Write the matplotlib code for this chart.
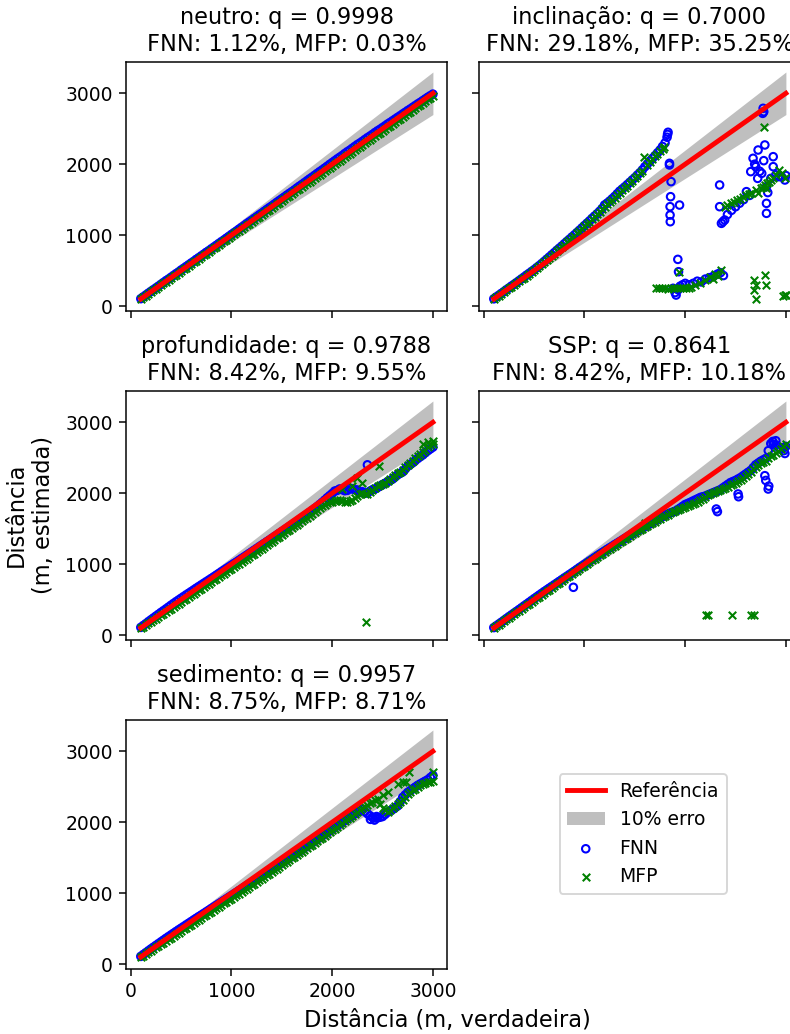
import matplotlib
matplotlib.use("Agg")
import matplotlib.pyplot as plt

# ---------------- data ----------------
X_GRID = [100, 150, 200, 250, 300, 350, 400, 450, 500, 550, 600, 650, 700, 750, 800,
          850, 900, 950, 1000, 1050, 1100, 1150, 1200, 1250, 1300, 1350, 1400, 1450,
          1500, 1550, 1600, 1650, 1700, 1750, 1800, 1850, 1900, 1950, 2000, 2050, 2100,
          2150, 2200, 2250, 2300, 2350, 2400, 2450, 2500, 2550, 2600, 2650, 2700, 2750,
          2800, 2850, 2900, 2950, 3000]
X_HALF = [125, 175, 225, 275, 325, 375, 425, 475, 525, 575, 625, 675, 725, 775, 825,
          875, 925, 975, 1025, 1075, 1125, 1175, 1225, 1275, 1325, 1375, 1425, 1475,
          1525, 1575, 1625, 1675, 1725, 1775, 1825, 1875, 1925, 1975, 2025, 2075, 2125,
          2175, 2225, 2275, 2325, 2375, 2425, 2475, 2525, 2575, 2625, 2675, 2725, 2775,
          2825, 2875, 2925, 2975]

REF_X = [100, 3000]

TITLES = ["neutro", "inclinação", "profundidade", "SSP", "sedimento"]
Q_VALUES = [0.9998, 0.7000, 0.9788, 0.8641, 0.9957]
FNN_ERR = [1.12, 29.18, 8.42, 8.42, 8.75]
MFP_ERR = [0.03, 35.25, 9.55, 10.18, 8.71]

# neutro
NEUTRO_FNN_Y = [104, 155, 206, 255, 306, 357, 405, 456, 507, 556, 606, 657, 706, 757, 806,
                856, 907, 957, 1008, 1057, 1108, 1160, 1208, 1259, 1309, 1361, 1410, 1462,
                1512, 1563, 1612, 1664, 1714, 1766, 1816, 1868, 1918, 1970, 2022, 2074, 2122,
                2175, 2224, 2276, 2322, 2373, 2420, 2470, 2516, 2566, 2612, 2660, 2708, 2756,
                2802, 2850, 2896, 2944, 2988]
NEUTRO_FNN_H = [129, 181, 230, 280, 331, 380, 431, 480, 531, 581, 630, 681, 731, 780, 831,
                882, 931, 982, 1033, 1083, 1133, 1184, 1234, 1285, 1335, 1386, 1436, 1487,
                1537, 1588, 1637, 1690, 1740, 1792, 1842, 1894, 1944, 1997, 2048, 2098, 2150,
                2198, 2250, 2298, 2348, 2396, 2446, 2492, 2540, 2588, 2636, 2683, 2731, 2778,
                2826, 2872, 2920, 2966]
NEUTRO_MFP_Y = [97, 146, 196, 245, 295, 344, 394, 443, 493, 542, 592, 641, 691, 740, 790,
                839, 889, 938, 988, 1037, 1087, 1136, 1186, 1235, 1285, 1334, 1384, 1433,
                1483, 1532, 1582, 1631, 1680, 1730, 1779, 1828, 1878, 1927, 1976, 2026, 2075,
                2124, 2174, 2223, 2272, 2322, 2371, 2420, 2469, 2519, 2568, 2617, 2667, 2716,
                2765, 2815, 2864, 2913, 2962]
NEUTRO_MFP_H = [121, 171, 220, 270, 319, 369, 418, 468, 517, 567, 616, 666, 715, 765, 814,
                864, 913, 963, 1012, 1062, 1111, 1161, 1210, 1260, 1309, 1359, 1408, 1458,
                1507, 1557, 1606, 1655, 1705, 1754, 1803, 1853, 1902, 1951, 2001, 2050, 2099,
                2149, 2198, 2247, 2297, 2346, 2395, 2444, 2494, 2543, 2592, 2642, 2691, 2740,
                2790, 2839, 2888, 2937]

# inclinação (main rising branch, then scattered branches)
INCL_FNN_X = [100, 150, 200, 250, 300, 350, 400, 450, 500, 550, 600, 650, 700, 750, 800,
              850, 900, 950, 1000, 1050, 1100, 1150, 1200, 1250, 1300, 1350, 1400, 1450,
              1500, 1550, 1600, 1650, 1700, 1750, 1800,
              125, 175, 225, 275, 325, 375, 425, 475, 525, 575, 625, 675, 725, 775, 825,
              875, 925, 975, 1025, 1075, 1125, 1175, 1225, 1275, 1325, 1375, 1425, 1475,
              1525, 1575, 1625, 1675, 1725, 1775,
              1820, 1830, 1825,
              1844, 1844, 1860, 1855, 1850, 1850, 1852, 1944,
              1880, 1900, 1910, 1930, 1950, 1975, 2000, 2040, 2080, 2120, 2160, 2200,
              2240, 2280, 2320, 2350, 2380, 1927, 1934,
              2342, 2342, 2360, 2375, 2392, 2420, 2460, 2500, 2540, 2580, 2608, 2640,
              2651, 2674, 2690, 2700, 2724, 2740, 2760, 2791, 2807, 2807, 2807, 2820,
              2850, 2874, 2874, 2900, 2930, 2957, 2990, 3000, 2780, 2720,
              2774, 2780, 2770]
INCL_FNN_Y = [102, 152, 203, 254, 305, 356, 408, 460, 512, 568, 628, 690, 752, 815, 878,
              940, 1003, 1068, 1135, 1200, 1268, 1335, 1425, 1480, 1545, 1620, 1680, 1745,
              1810, 1880, 1965, 2045, 2120, 2200, 2300,
              128, 178, 230, 281, 330, 383, 436, 487, 541, 598, 660, 722, 785, 846, 910,
              973, 1036, 1102, 1168, 1236, 1300, 1375, 1450, 1512, 1583, 1650, 1712, 1778,
              1846, 1920, 2005, 2082, 2160, 2250,
              2380, 2450, 2420,
              2012, 1989, 1754, 1542, 1401, 1283, 1189, 1424,
              250, 190, 155, 230, 280, 300, 320, 300, 320, 350, 340, 380,
              400, 420, 450, 470, 430, 658, 484,
              1707, 1401, 1166, 1190, 1213, 1290, 1350, 1400, 1450, 1500, 1613, 1560,
              1895, 2083, 2000, 1965, 2200, 1900, 1871, 2271, 1683, 1448, 1307, 1600,
              1800, 2106, 1965, 1850, 1824, 1824, 1777, 1840, 2050, 1800,
              2788, 2740, 2717]
INCL_MFP_X = [100, 150, 200, 250, 300, 350, 400, 450, 500, 550, 600, 650, 700, 750, 800,
              850, 900, 950, 1000, 1050, 1100, 1150, 1200, 1250, 1300, 1350, 1400, 1450,
              1500, 1550, 1595, 1650, 1700, 1750, 1790,
              125, 175, 225, 275, 325, 375, 425, 475, 525, 575, 625, 675, 725, 775, 825,
              875, 925, 975, 1025, 1075, 1125, 1175, 1225, 1275, 1325, 1375, 1425, 1475,
              1525, 1575, 1625, 1675, 1725, 1775,
              1711, 1740, 1770, 1800, 1830, 1860, 1890, 1920, 1950, 1980, 2010, 2040,
              2060, 2100, 2150, 2200, 2250, 2300, 2359, 2330, 2280, 1934,
              2392, 2420, 2450, 2480, 2510, 2540, 2570, 2600, 2630, 2658,
              2700, 2720, 2750, 2770, 2790, 2810, 2830, 2850, 2870, 2900, 2930, 2957,
              2990, 2800, 2784,
              2684, 2700, 2684, 2708, 2791, 2800, 2973, 2990, 3000]
INCL_MFP_Y = [98, 148, 198, 249, 300, 350, 402, 452, 505, 560, 618, 678, 740, 802, 865,
              928, 992, 1058, 1125, 1190, 1258, 1325, 1400, 1465, 1530, 1600, 1665, 1730,
              1800, 1870, 2097, 2030, 2110, 2180, 2247,
              124, 174, 224, 275, 326, 376, 428, 478, 532, 588, 648, 708, 771, 834, 896,
              960, 1025, 1092, 1158, 1224, 1292, 1362, 1432, 1498, 1565, 1632, 1698, 1765,
              1835, 1905, 1990, 2070, 2145, 2215,
              250, 248, 252, 250, 245, 252, 250, 248, 255, 250, 255, 258,
              262, 300, 330, 370, 410, 450, 508, 420, 380, 484,
              1401, 1420, 1450, 1470, 1490, 1510, 1540, 1560, 1580, 1589,
              1640, 1600, 1660, 1683, 1700, 1730, 1754, 1780, 1800, 1850, 1918, 1870,
              1800, 1660, 2520,
              367, 300, 226, 94, 437, 300, 141, 155, 150]

# profundidade
PROF_FNN_Y = [108, 160, 214, 266, 318, 368, 420, 470, 518, 566, 612, 660, 706, 752, 798,
              845, 892, 938, 985, 1030, 1078, 1125, 1172, 1220, 1268, 1315, 1362, 1410,
              1458, 1505, 1552, 1600, 1650, 1700, 1755, 1810, 1870, 1935, 1995, 2040, 2050,
              2040, 2060, 2045, 2020, 2005, 2050, 2080, 2120, 2160, 2200, 2260, 2300, 2380,
              2430, 2490, 2540, 2600, 2650]
PROF_FNN_H = [134, 188, 240, 292, 343, 394, 445, 494, 542, 589, 636, 683, 729, 775, 821,
              868, 915, 961, 1008, 1054, 1101, 1148, 1196, 1244, 1291, 1338, 1386, 1434,
              1481, 1528, 1576, 1625, 1675, 1728, 1782, 1840, 1902, 1965, 2030, 2060, 2035,
              2070, 2050, 2010, 2000, 2030, 2060, 2100, 2140, 2180, 2230, 2280, 2340, 2405,
              2460, 2515, 2570, 2625]
PROF_FNN_EXTRA_X = [2350]
PROF_FNN_EXTRA_Y = [2400]
PROF_MFP_Y = [95, 140, 186, 232, 278, 325, 372, 418, 465, 512, 558, 605, 652, 700, 746,
              793, 840, 888, 935, 982, 1030, 1077, 1125, 1172, 1220, 1268, 1316, 1365,
              1412, 1460, 1508, 1556, 1605, 1655, 1705, 1760, 1815, 1860, 1880, 1900, 1890,
              1880, 1900, 1960, 2000, 1990, 2050, 2100, 2130, 2170, 2230, 2280, 2330, 2400,
              2460, 2530, 2580, 2650, 2700]
PROF_MFP_H = [118, 163, 209, 255, 302, 348, 395, 442, 488, 535, 582, 628, 676, 723, 770,
              816, 864, 912, 958, 1006, 1054, 1101, 1148, 1196, 1244, 1292, 1340, 1388,
              1436, 1484, 1532, 1580, 1630, 1680, 1732, 1788, 1838, 1872, 1892, 1905, 1880,
              1890, 1930, 1985, 1995, 2020, 2075, 2115, 2150, 2200, 2255, 2305, 2365, 2430,
              2495, 2555, 2615, 2680]
PROF_MFP_EXTRA_X = [2250, 2467, 2333, 2900, 2950, 3000, 2300, 2200, 2100]
PROF_MFP_EXTRA_Y = [2210, 2385, 180, 2700, 2720, 2730, 2150, 2100, 2060]

# SSP
SSP_FNN_Y = [105, 155, 206, 258, 308, 358, 410, 460, 512, 562, 612, 660, 708, 756, 805,
             852, 900, 950, 996, 1045, 1092, 1140, 1185, 1230, 1275, 1318, 1362, 1405,
             1450, 1490, 1530, 1570, 1610, 1650, 1690, 1720, 1745, 1790, 1840, 1870, 1905,
             1940, 1960, 1990, 2020, 2050, 2100, 2150, 2180, 2220, 2270, 2320, 2400, 2450,
             2490, 2700, 2680, 2620, 2660]
SSP_FNN_H = [130, 180, 232, 283, 333, 384, 435, 486, 537, 587, 636, 684, 732, 780, 828,
             876, 925, 973, 1020, 1068, 1116, 1162, 1208, 1252, 1296, 1340, 1384, 1428,
             1470, 1510, 1550, 1590, 1630, 1670, 1705, 1732, 1768, 1815, 1855, 1888, 1922,
             1950, 1975, 2005, 2035, 2075, 2125, 2165, 2200, 2245, 2295, 2360, 2425, 2470,
             2600, 2690, 2650, 2640]
SSP_FNN_EXTRA_X = [890, 2309, 2320, 2525, 2530, 2791, 2800, 2824, 2830, 2870, 2900, 2980, 2990]
SSP_FNN_EXTRA_Y = [673, 1777, 1740, 1989, 1950, 2247, 2180, 2059, 2100, 2730, 2740, 2600, 2560]
SSP_MFP_Y = [98, 147, 196, 246, 295, 345, 395, 444, 494, 543, 592, 641, 690, 740, 788,
             836, 884, 932, 980, 1028, 1075, 1122, 1170, 1215, 1260, 1305, 1350, 1395,
             1440, 1480, 1520, 1560, 1600, 1640, 1680, 1715, 1750, 1780, 1810, 1840, 1860,
             1900, 1950, 1985, 2010, 2040, 2070, 2110, 2150, 2190, 2240, 2300, 2370, 2420,
             2460, 2520, 2560, 2620, 2700]
SSP_MFP_H = [122, 171, 221, 270, 320, 370, 420, 469, 518, 568, 616, 666, 715, 764, 812,
             860, 908, 956, 1004, 1052, 1098, 1146, 1192, 1238, 1282, 1328, 1372, 1418,
             1460, 1500, 1540, 1580, 1620, 1660, 1698, 1732, 1765, 1795, 1825, 1850, 1880,
             1925, 1968, 1998, 2025, 2055, 2090, 2130, 2170, 2215, 2270, 2335, 2395, 2440,
             2490, 2540, 2590, 2660]
SSP_MFP_EXTRA_X = [2209, 2230, 2465, 2658, 2680, 1700, 1600]
SSP_MFP_EXTRA_Y = [282, 280, 282, 282, 280, 1650, 1580]

# sedimento
SED_FNN_Y = [108, 160, 212, 262, 312, 362, 410, 458, 505, 552, 598, 645, 690, 736, 782,
             828, 874, 920, 966, 1012, 1058, 1105, 1150, 1196, 1242, 1290, 1336, 1382,
             1430, 1476, 1522, 1570, 1618, 1665, 1712, 1760, 1808, 1856, 1904, 1952, 2000,
             2048, 2095, 2140, 2180, 2120, 2070, 2060, 2080, 2140, 2180, 2230, 2350, 2420,
             2470, 2520, 2560, 2600, 2660]
SED_FNN_H = [134, 186, 237, 287, 337, 386, 434, 482, 528, 575, 622, 668, 713, 759, 805,
             851, 897, 943, 989, 1035, 1082, 1128, 1173, 1219, 1266, 1313, 1359, 1406,
             1453, 1499, 1546, 1594, 1642, 1688, 1736, 1784, 1832, 1880, 1928, 1976, 2024,
             2072, 2118, 2160, 2150, 2090, 2060, 2070, 2110, 2160, 2205, 2290, 2385, 2445,
             2495, 2540, 2580, 2630]
SED_FNN_EXTRA_X = [2380, 2420, 2440]
SED_FNN_EXTRA_Y = [2040, 2030, 2080]
SED_MFP_Y = [95, 142, 188, 234, 280, 326, 372, 418, 464, 510, 556, 602, 648, 694, 740,
             786, 832, 878, 922, 968, 1015, 1062, 1108, 1155, 1202, 1250, 1298, 1346,
             1394, 1442, 1490, 1538, 1586, 1634, 1684, 1734, 1784, 1836, 1886, 1936, 1988,
             2040, 2092, 2145, 2195, 2240, 2290, 2330, 2200, 2150, 2200, 2250, 2320, 2400,
             2450, 2500, 2540, 2560, 2580]
SED_MFP_H = [118, 165, 211, 257, 303, 349, 395, 441, 487, 533, 579, 625, 671, 717, 763,
             809, 855, 900, 945, 992, 1038, 1085, 1132, 1178, 1226, 1274, 1322, 1370,
             1418, 1466, 1514, 1562, 1610, 1659, 1709, 1759, 1810, 1861, 1911, 1962, 2014,
             2066, 2118, 2170, 2218, 2265, 2310, 2260, 2175, 2175, 2225, 2285, 2360, 2425,
             2475, 2520, 2550, 2570]
SED_MFP_EXTRA_X = [2650, 2733, 2766, 2700, 3000, 2500, 2550]
SED_MFP_EXTRA_Y = [2540, 2567, 2708, 2560, 2708, 2380, 2420]

FNN_SERIES = [
    (X_GRID + X_HALF, NEUTRO_FNN_Y + NEUTRO_FNN_H),
    (INCL_FNN_X, INCL_FNN_Y),
    (X_GRID + X_HALF + PROF_FNN_EXTRA_X, PROF_FNN_Y + PROF_FNN_H + PROF_FNN_EXTRA_Y),
    (X_GRID + X_HALF + SSP_FNN_EXTRA_X, SSP_FNN_Y + SSP_FNN_H + SSP_FNN_EXTRA_Y),
    (X_GRID + X_HALF + SED_FNN_EXTRA_X, SED_FNN_Y + SED_FNN_H + SED_FNN_EXTRA_Y),
]
MFP_SERIES = [
    (X_GRID + X_HALF, NEUTRO_MFP_Y + NEUTRO_MFP_H),
    (INCL_MFP_X, INCL_MFP_Y),
    (X_GRID + X_HALF + PROF_MFP_EXTRA_X, PROF_MFP_Y + PROF_MFP_H + PROF_MFP_EXTRA_Y),
    (X_GRID + X_HALF + SSP_MFP_EXTRA_X, SSP_MFP_Y + SSP_MFP_H + SSP_MFP_EXTRA_Y),
    (X_GRID + X_HALF + SED_MFP_EXTRA_X, SED_MFP_Y + SED_MFP_H + SED_MFP_EXTRA_Y),
]

# ---------------- figure ----------------
DPI = 135
W, H = 790, 1034
fig = plt.figure(figsize=(W / DPI, H / DPI), dpi=DPI)

ax_w, ax_h = 321, 249
lefts = [126, 479]
tops = [62, 391, 720]

def px_axes(left, top, sharex=None, sharey=None):
    return fig.add_axes([left / W, 1 - (top + ax_h) / H, ax_w / W, ax_h / H],
                        sharex=sharex, sharey=sharey)

positions = [(0, 0), (0, 1), (1, 0), (1, 1), (2, 0)]
axes = []
for i, (r, c) in enumerate(positions):
    ax = px_axes(lefts[c], tops[r],
                 sharex=axes[0] if axes else None,
                 sharey=axes[0] if axes else None)
    axes.append(ax)

ref_lo = [0.9 * v for v in REF_X]
ref_hi = [1.1 * v for v in REF_X]

for i, ax in enumerate(axes):
    ax.fill_between(REF_X, ref_lo, ref_hi, color="gray", alpha=0.5,
                    linewidth=0, label="10% erro")
    fx, fy = FNN_SERIES[i]
    mx, my = MFP_SERIES[i]
    ax.scatter(fx, fy, s=16, facecolors="none", edgecolors="b",
               linewidths=1.1, label="FNN")
    ax.scatter(mx, my, s=16, marker="x", color="g", linewidths=1.1, label="MFP")
    ax.plot(REF_X, REF_X, "r-", lw=2.6, label="Referência")
    ax.set_title(f"{TITLES[i]}: q = {Q_VALUES[i]:.4f}\n"
                 f"FNN: {FNN_ERR[i]:.2f}%, MFP: {MFP_ERR[i]:.2f}%", fontsize=12)
    r, c = positions[i]
    if c == 1:
        ax.tick_params(labelleft=False)
    if r < 2:
        ax.tick_params(labelbottom=False)

axes[0].set_xlim(-47, 3140)
axes[0].set_ylim(-70, 3441)
axes[0].set_xticks([0, 1000, 2000, 3000])
axes[0].set_yticks([0, 1000, 2000, 3000])

handles, labels = axes[0].get_legend_handles_labels()
order = [labels.index(n) for n in ["Referência", "10% erro", "FNN", "MFP"]]
fig.legend([handles[k] for k in order], [labels[k] for k in order],
           loc="center", bbox_to_anchor=(643 / W, 1 - 834 / H), fontsize=10)

fig.text(447 / W, 1 - 1021 / H, "Distância (m, verdadeira)", ha="center",
         va="center", fontsize=12)
fig.text(30 / W, 1 - 515 / H, "Distância\n(m, estimada)", ha="center",
         va="center", rotation=90, fontsize=12)

fig.savefig("out.png", dpi=DPI)
